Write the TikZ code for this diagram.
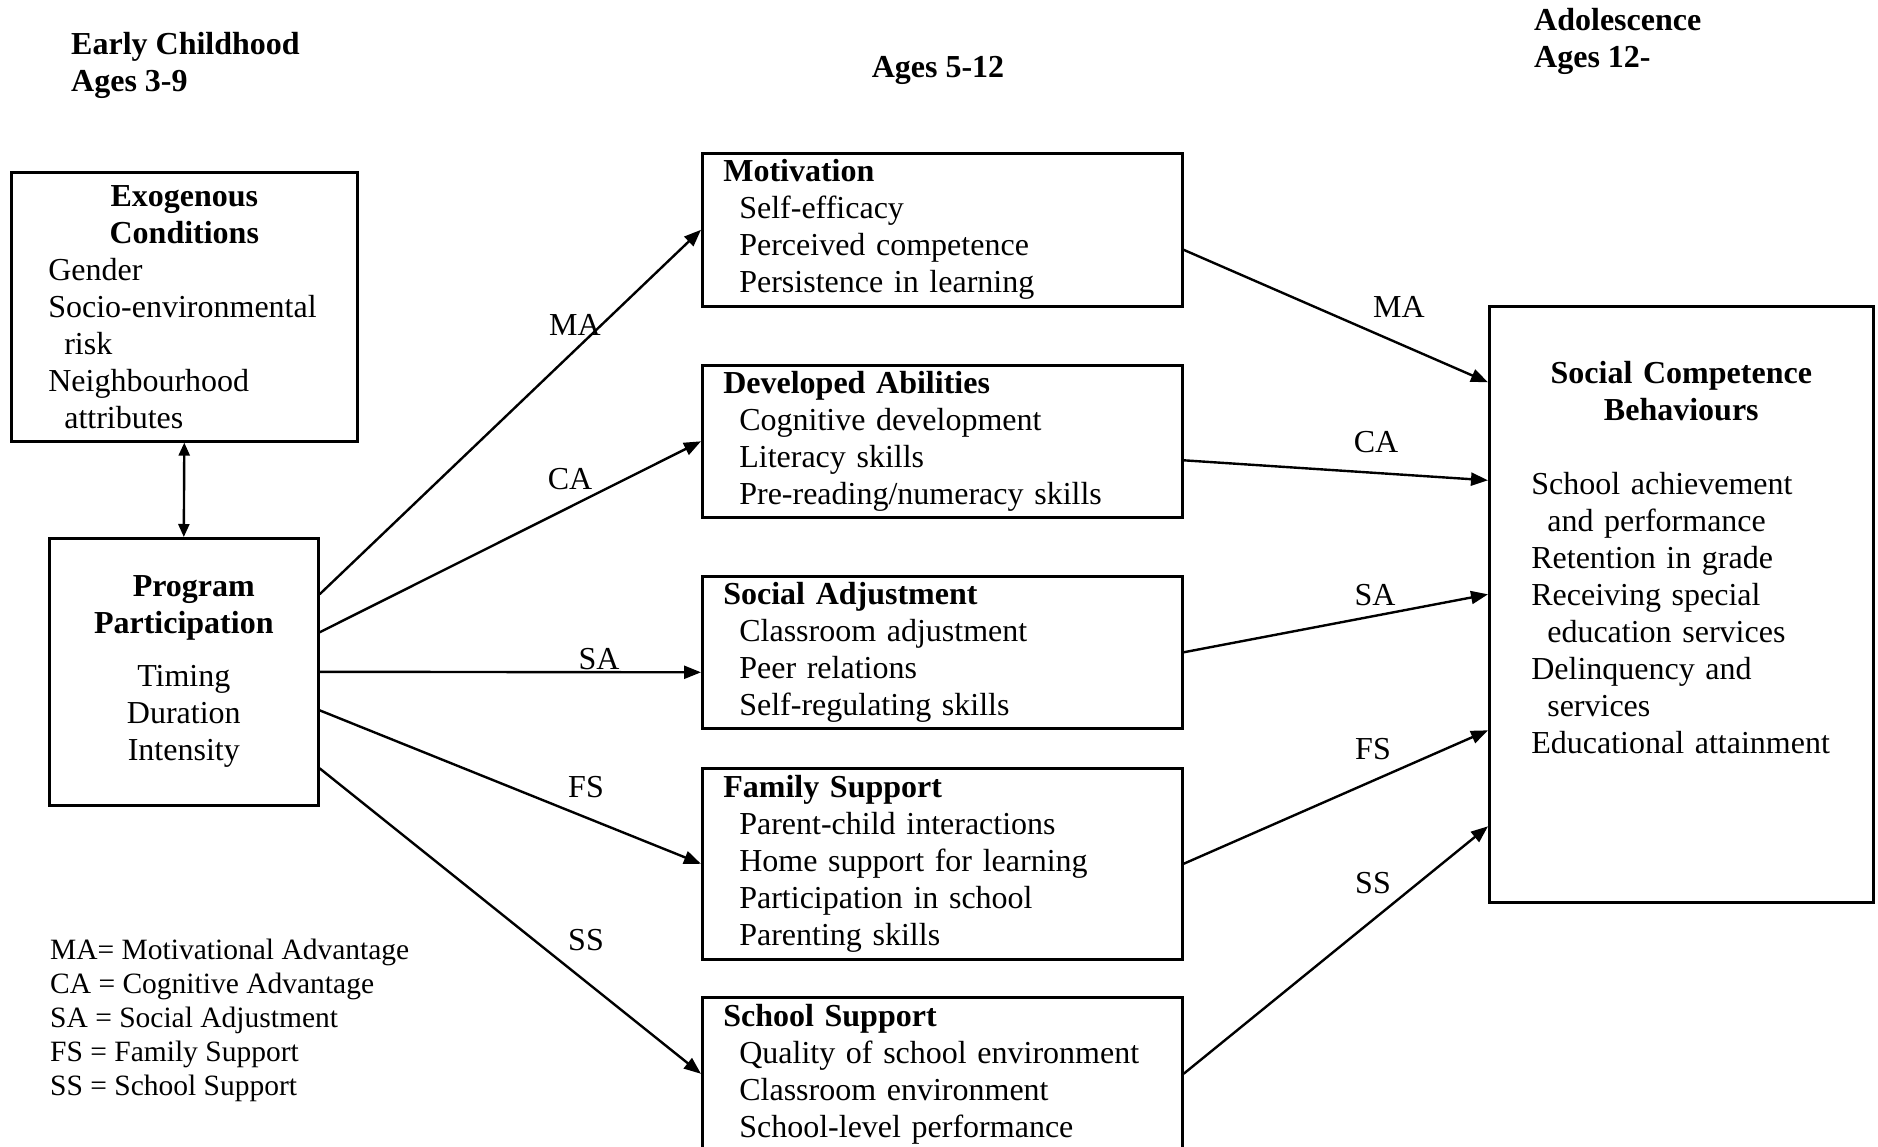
\documentclass[tikz,border=0pt]{standalone}
\usepackage{fontspec}
\setmainfont{Liberation Serif}
\usetikzlibrary{arrows.meta,positioning}
\newcommand{\indt}{\hspace*{16pt}}
\newcommand{\mainsize}{\fontsize{32}{37}\selectfont}
\begin{document}
\begin{tikzpicture}[x=1pt,y=-1pt,font=\mainsize,
    box/.style={draw, line width=2.6pt, inner sep=0pt},
    mid/.style={box, anchor=north west, minimum width=480pt, text width=438pt, align=left},
    conn/.style={line width=2.4pt, -{Triangle[length=17pt,width=13pt]}},
    txt/.style={inner sep=0pt}]
\useasboundingbox (0,0) rectangle (1878,1147);
% age headers
\node[txt, anchor=north west, align=left] (early) at (71,32) {\textbf{Early Childhood}\\ \textbf{Ages 3-9}};
\node[txt, anchor=north] (middle) at (938,56) {\textbf{Ages 5-12}};
\node[txt, anchor=north west, align=left] (adol) at (1534,8) {\textbf{Adolescence}\\ \textbf{Ages 12-}};
% left column
\node[box, anchor=north west, minimum width=346pt, minimum height=269pt, text width=272pt, align=left] (exo) at (10,171)
    {\makebox[\hsize]{\bfseries Exogenous}\\ \makebox[\hsize]{\bfseries Conditions}\\ Gender\\ Socio-environmental\\ \indt risk\\ Neighbourhood\\ \indt attributes};
\node[box, anchor=north west, minimum width=269pt, minimum height=267pt, align=center] (pp) at (48,537)
    {\hspace*{20pt}\textbf{Program}\\ \textbf{Participation}\\[16pt] Timing\\ Duration\\ Intensity};
\draw[line width=2.4pt, {Triangle[length=13pt,width=11pt]}-{Triangle[length=13pt,width=11pt]}] (exo.south) -- (pp.north);
% middle column
\node[mid, minimum height=153pt] (mot) at (701,152)
    {\textbf{Motivation}\\ \indt Self-efficacy\\ \indt Perceived competence\\ \indt Persistence in learning};
\node[mid, minimum height=152pt] (dev) at (701,364)
    {\textbf{Developed Abilities}\\ \indt Cognitive development\\ \indt Literacy skills\\ \indt Pre-reading/numeracy skills};
\node[mid, minimum height=152pt] (soc) at (701,575)
    {\textbf{Social Adjustment}\\ \indt Classroom adjustment\\ \indt Peer relations\\ \indt Self-regulating skills};
\node[mid, minimum height=191pt] (fam) at (701,767)
    {\textbf{Family Support}\\ \indt Parent-child interactions\\ \indt Home support for learning\\ \indt Participation in school\\ \indt Parenting skills};
\node[mid, minimum height=153pt] (sch) at (701,996)
    {\textbf{School Support}\\ \indt Quality of school environment\\ \indt Classroom environment\\ \indt School-level performance};
% right column
\node[box, anchor=north west, minimum width=384pt, minimum height=596pt] (sc) at (1488,305) {};
\node[txt, below=56pt of sc.north, text width=300pt, align=left] (sctxt)
    {\makebox[\hsize]{\bfseries Social Competence}\\ \makebox[\hsize]{\bfseries Behaviours}\\[37pt]
     School achievement\\ \indt and performance\\ Retention in grade\\ Receiving special\\ \indt education services\\
     Delinquency and\\ \indt services\\ Educational attainment};
% paths
\draw[conn] ([yshift=77.5pt]pp.east) -- (mot.west);
\draw[conn] ([yshift=39.5pt]pp.east) -- (dev.west);
\draw[conn] (pp.east) -- ([yshift=-20pt]soc.west);
\draw[conn] ([yshift=-38.5pt]pp.east) -- (fam.west);
\draw[conn] ([yshift=-96.5pt]pp.east) -- (sch.west);
\draw[conn] ([yshift=-20pt]mot.east) -- ([yshift=222pt]sc.west);
\draw[conn] ([yshift=-19pt]dev.east) -- ([yshift=124pt]sc.west);
\draw[conn] (soc.east) -- ([yshift=10pt]sc.west);
\draw[conn] (fam.east) -- ([yshift=-126pt]sc.west);
\draw[conn] (sch.east) -- ([yshift=-222pt]sc.west);
\node[txt] (ma1) at (575,325) {MA};
\node[txt] (ca1) at (570,479) {CA};
\node[txt] (sa1) at (599,659) {SA};
\node[txt] (fs1) at (586,787) {FS};
\node[txt] (ss1) at (586,940) {SS};
\node[txt] (ma2) at (1399,307) {MA};
\node[txt] (ca2) at (1376,442) {CA};
\node[txt] (sa2) at (1375,595) {SA};
\node[txt] (fs2) at (1373,749) {FS};
\node[txt] (ss2) at (1373,883) {SS};
% key
\node[txt, anchor=north west, align=left, font=\fontsize{29.5}{34}\selectfont] (key) at (50,939)
    {MA= Motivational Advantage\\ CA = Cognitive Advantage\\ SA = Social Adjustment\\ FS = Family Support\\ SS = School Support};
\end{tikzpicture}
\end{document}
